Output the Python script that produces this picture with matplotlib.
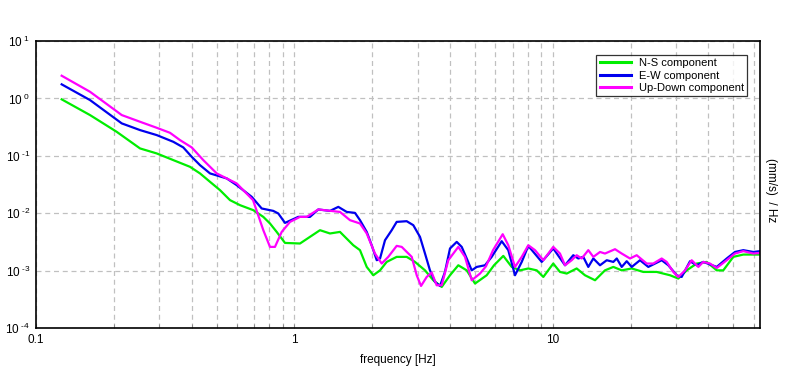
import matplotlib
matplotlib.use("Agg")
import matplotlib.pyplot as plt
from matplotlib.ticker import FixedLocator, FuncFormatter, NullFormatter
import numpy as np

plt.rcParams['font.family'] = ['Liberation Sans', 'DejaVu Sans']
plt.rcParams['mathtext.default'] = 'regular'
plt.rcParams['axes.unicode_minus'] = False

# ---- data ----
ns_freq = [0.1257, 0.1618, 0.2052, 0.2527, 0.2932, 0.340, 0.3945, 0.4312, 0.4715, 0.5154,
           0.5634, 0.6159, 0.6935, 0.758, 0.8045, 0.854, 0.9196, 1.051, 1.256, 1.373, 1.501,
           1.69, 1.794, 1.905, 2.02, 2.145, 2.276, 2.488, 2.72, 2.929, 3.202, 3.447, 3.716,
           4.001, 4.308, 4.644, 5.0, 5.548, 5.923, 6.434, 6.934, 7.467, 8.04, 8.665, 9.19,
           10.04, 10.66, 11.32, 12.37, 13.32, 14.57, 15.92, 17.15, 18.48, 20.2, 22.4, 25.24,
           28.42, 30.6, 32.98, 36.05, 39.41, 43.09, 45.68, 49.94, 54.6, 63.39]
ns_psd = [0.965, 0.514, 0.263, 0.135, 0.1105, 0.0845, 0.0646, 0.0496, 0.0354, 0.02536,
          0.017, 0.0139, 0.01137, 0.00869, 0.00667, 0.00476, 0.00306, 0.00299, 0.0051, 0.00447,
          0.00476, 0.00279, 0.00229, 0.00117, 0.000838, 0.00102, 0.00143, 0.00175, 0.00175,
          0.00143, 0.00102, 0.000686, 0.000524, 0.000838, 0.00125, 0.00102, 0.000601, 0.000838,
          0.00125, 0.00182, 0.00117, 0.00102, 0.0011, 0.00102, 0.000783, 0.00134, 0.000957,
          0.000897, 0.0011, 0.000838, 0.000686, 0.00102, 0.00117, 0.00102, 0.0011, 0.000957,
          0.000957, 0.000838, 0.000734, 0.00102, 0.00134, 0.00143, 0.00102, 0.00102, 0.00175,
          0.00192, 0.00192]

ew_freq = [0.1257, 0.1618, 0.2147, 0.2527, 0.2932, 0.340, 0.3715, 0.4005, 0.4312, 0.4715,
           0.547, 0.598, 0.6837, 0.7472, 0.8285, 0.8663, 0.9196, 1.035, 1.149, 1.237, 1.373,
           1.479, 1.594, 1.716, 1.794, 1.905, 1.991, 2.083, 2.145, 2.242, 2.38, 2.488, 2.72,
           2.885, 3.062, 3.202, 3.347, 3.5, 3.66, 3.826, 4.001, 4.248, 4.441, 4.644, 4.856,
           5.077, 5.466, 5.801, 6.343, 6.726, 7.141, 7.582, 8.04, 9.06, 10.04, 11.15, 12.0,
           12.55, 13.12, 13.72, 14.35, 15.23, 16.17, 17.15, 17.68, 18.48, 19.32, 20.2, 21.75,
           23.42, 26.39, 27.99, 30.17, 31.53, 33.96, 36.05, 38.23, 43.09, 47.1, 50.71, 54.6,
           59.68, 63.39]
ew_psd = [1.761, 0.938, 0.3683, 0.2815, 0.2304, 0.176, 0.1406, 0.0965, 0.0691, 0.0496,
          0.0406, 0.031, 0.0194, 0.01217, 0.01105, 0.00996, 0.00683, 0.00869, 0.00869, 0.0117,
          0.01105, 0.01298, 0.0106, 0.0102, 0.00762, 0.00476, 0.00279, 0.00153, 0.00164,
          0.00341, 0.0051, 0.00711, 0.00731, 0.00623, 0.0039, 0.002, 0.00102, 0.00064, 0.000546,
          0.000957, 0.00245, 0.00319, 0.00261, 0.00164, 0.00102, 0.00117, 0.00125, 0.00175,
          0.00328, 0.00229, 0.000838, 0.00143, 0.00272, 0.00143, 0.00245, 0.00125, 0.00187,
          0.00164, 0.00175, 0.00117, 0.00164, 0.00125, 0.00153, 0.00143, 0.00164, 0.00117,
          0.00147, 0.00117, 0.00153, 0.00117, 0.00153, 0.00125, 0.000838, 0.000783, 0.00147,
          0.00125, 0.00143, 0.00117, 0.00164, 0.00213, 0.00229, 0.00213, 0.0022]

ud_freq = [0.1257, 0.1618, 0.2147, 0.2527, 0.2932, 0.330, 0.3608, 0.4005, 0.4441, 0.5005,
           0.547, 0.598, 0.6917, 0.758, 0.8045, 0.841, 0.893, 0.9616, 1.051, 1.116, 1.237,
           1.501, 1.641, 1.794, 1.905, 2.050, 2.177, 2.308, 2.488, 2.602, 2.845, 2.974, 3.091,
           3.251, 3.399, 3.553, 3.716, 3.941, 4.308, 4.573, 4.856, 5.228, 5.514, 5.871, 6.400,
           6.726, 7.141, 7.582, 8.04, 8.534, 9.19, 10.04, 10.66, 11.15, 11.83, 12.37, 12.94,
           13.72, 14.35, 15.23, 15.92, 17.41, 18.48, 19.9, 21.12, 23.09, 24.48, 26.39, 27.59,
           29.27, 30.6, 32.49, 34.47, 36.57, 38.23, 40.58, 43.09, 47.1, 50.71, 54.6, 59.68,
           63.39]
ud_psd = [2.487, 1.308, 0.514, 0.393, 0.3088, 0.2526, 0.1885, 0.1406, 0.0845, 0.0496,
          0.0406, 0.0332, 0.017, 0.0051, 0.00261, 0.00261, 0.00476, 0.00711, 0.00869, 0.00869,
          0.0117, 0.0106, 0.00762, 0.00667, 0.00447, 0.002, 0.00134, 0.00175, 0.00272, 0.00261,
          0.00175, 0.000838, 0.000546, 0.000783, 0.000934, 0.000561, 0.000561, 0.00153,
          0.00261, 0.00175, 0.000686, 0.000897, 0.0012, 0.00229, 0.00434, 0.00279, 0.00117,
          0.00175, 0.00279, 0.00229, 0.00153, 0.00261, 0.002, 0.00125, 0.00153, 0.00187,
          0.00164, 0.00229, 0.00175, 0.00213, 0.002, 0.00238, 0.002, 0.00164, 0.00187, 0.00134,
          0.00134, 0.00164, 0.00143, 0.000957, 0.000783, 0.00102, 0.00153, 0.00117, 0.00143,
          0.00134, 0.00112, 0.00153, 0.002, 0.0022, 0.002, 0.00205]

series_names = ['N-S component', 'E-W component', 'Up-Down component']
series_colors = ['#00ee00', '#0000ee', '#ff00ff']

x_major = [0.1, 1, 10]
x_major_labels = ['0.1', '1', '10']
y_major = [1e-4, 1e-3, 1e-2, 1e-1, 1e0, 1e1]


def y_label(v, pos):
    e = int(round(np.log10(v)))
    s = str(abs(e))
    if e < 0:
        s = '\u2010' + s
    return r'$10^{\ ' + s + '}$'


# ---- figure ----
fig = plt.figure(figsize=(7.96, 3.70), dpi=100)
ax = fig.add_axes([36/796, 1 - 328.3/370, (760-36)/796, (328.3-41)/370])

for f, p, name, c in zip([ns_freq, ew_freq, ud_freq], [ns_psd, ew_psd, ud_psd],
                         series_names, series_colors):
    ax.plot(f, p, color=c, lw=1.6, label=name, solid_joinstyle='round')

ax.set_xscale('log')
ax.set_yscale('log')
ax.set_xlim(0.1, 10 ** (-1 + (760 - 36) / 258.4))
ax.set_ylim(1e-4, 1e1)

ax.xaxis.set_major_locator(FixedLocator(x_major))
ax.xaxis.set_major_formatter(FuncFormatter(lambda v, pos: x_major_labels[x_major.index(v)] if v in x_major else ''))
minors = [m * d for d in [0.1, 1, 10] for m in range(2, 10)]
ax.xaxis.set_minor_locator(FixedLocator(minors))
ax.xaxis.set_minor_formatter(NullFormatter())

ax.yaxis.set_major_locator(FixedLocator(y_major))
ax.yaxis.set_major_formatter(FuncFormatter(y_label))
ax.yaxis.set_minor_locator(FixedLocator([]))

ax.tick_params(axis='x', which='both', direction='in', length=3, width=0.6, color='#808080',
               labelsize=8.5, pad=4)
ax.tick_params(axis='y', which='both', length=0, labelsize=8.5, pad=4)

ax.grid(True, which='major', axis='both', color='#c0c0c0', linestyle=(0, (4, 3)), lw=0.9)
ax.grid(True, which='minor', axis='x', color='#c0c0c0', linestyle=(0, (4, 3)), lw=0.9)

for sp in ax.spines.values():
    sp.set_linewidth(1.2)
    sp.set_color('black')

ax.set_xlabel('frequency [Hz]', fontsize=8.5, labelpad=6)
fig.text(771/796, 1 - 190/370, '(mm/s)  / Hz', rotation=270, ha='center', va='center', fontsize=8.5)

leg = ax.legend(loc='upper right', bbox_to_anchor=((747 - 36) / 724, 1 - (55 - 41) / 287.3),
                fontsize=8, frameon=True, fancybox=False, borderpad=0.3, labelspacing=0.2,
                handlelength=2.8, handletextpad=0.7, borderaxespad=0)
leg.get_frame().set_edgecolor('black')
leg.get_frame().set_linewidth(0.9)
for l in leg.get_lines():
    l.set_linewidth(2.2)

fig.savefig('out.png', dpi=100)
